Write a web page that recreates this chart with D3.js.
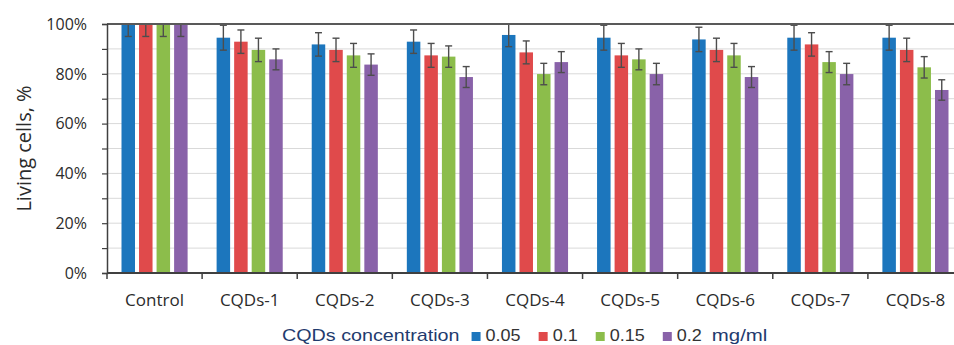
<!DOCTYPE html>
<html lang="en">
<head>
    <meta charset="UTF-8">
    <title>Living cells</title>
    <script src="https://d3js.org/d3.v7.min.js"></script>
    <style>
        body { margin: 0; background: #fff; }
        svg { display: block; }
    </style>
</head>
<body>
    <div id="chart"></div>
    <script>
        // Chart data
        const categories = ['Control', 'CQDs-1', 'CQDs-2', 'CQDs-3', 'CQDs-4', 'CQDs-5', 'CQDs-6', 'CQDs-7', 'CQDs-8'];
        const seriesNames = ['0.05', '0.1', '0.15', '0.2'];
        const vals005 = [100, 94.5, 91.8, 92.9, 95.6, 94.5, 93.8, 94.5, 94.5];
        const vals01  = [100, 92.9, 89.6, 87.4, 88.6, 87.4, 89.6, 91.8, 89.6];
        const vals015 = [100, 89.6, 87.4, 86.9, 79.9, 85.8, 87.4, 84.7, 82.6];
        const vals02  = [100, 85.8, 83.7, 78.7, 84.7, 79.9, 78.7, 79.9, 73.5];
        const err005 = [5, 5, 4.7, 4.7, 4.7, 5, 4.9, 5, 5];
        const err01  = [5, 4.7, 4.7, 4.8, 4.6, 4.8, 4.7, 4.7, 4.7];
        const err015 = [5, 4.7, 4.8, 4.3, 4.3, 4.2, 4.8, 4.2, 4.3];
        const err02  = [5, 4.2, 4.3, 4.2, 4.2, 4.3, 4.2, 4.3, 4.1];
        const yTicks = [0, 20, 40, 60, 80, 100];

        const seriesVals = [vals005, vals01, vals015, vals02];
        const seriesErr = [err005, err01, err015, err02];
        const colors = ['#1c76bd', '#e04a4b', '#8cbd4b', '#8962a9'];

        const width = 954, height = 345;
        const plotLeft = 107, plotRight = 963, plotTop = 24, plotBottom = 273;

        const svg = d3.select('#chart').append('svg')
            .attr('width', width)
            .attr('height', height);

        const x0 = d3.scaleBand().domain(categories).range([plotLeft, plotRight]);
        const x1 = d3.scaleBand().domain(seriesNames)
            .range([14.5, x0.bandwidth() - 14.5])
            .paddingInner(0.23);
        const y = d3.scaleLinear().domain([0, 100]).range([plotBottom, plotTop]);

        // gridlines every 10%
        svg.append('g')
            .selectAll('line')
            .data(d3.range(10, 100, 10))
            .enter().append('line')
            .attr('x1', plotLeft).attr('x2', width)
            .attr('y1', d => y(d)).attr('y2', d => y(d))
            .attr('stroke', '#d9d9d9')
            .attr('stroke-width', 1);

        // bars
        const rows = [];
        categories.forEach((c, i) => {
            seriesNames.forEach((s, j) => {
                rows.push({ cat: c, ser: s, j: j, v: seriesVals[j][i], e: seriesErr[j][i] });
            });
        });

        svg.append('g')
            .selectAll('rect')
            .data(rows)
            .enter().append('rect')
            .attr('x', d => x0(d.cat) + x1(d.ser))
            .attr('width', x1.bandwidth())
            .attr('y', d => y(d.v))
            .attr('height', d => y(0) - y(d.v))
            .attr('fill', d => colors[d.j]);

        // error bars, clipped to the plot area
        svg.append('clipPath').attr('id', 'plotclip')
            .append('rect')
            .attr('x', plotLeft).attr('y', plotTop)
            .attr('width', width - plotLeft).attr('height', plotBottom - plotTop);

        const eb = svg.append('g')
            .attr('clip-path', 'url(#plotclip)')
            .attr('stroke', '#4d4d4d')
            .attr('stroke-width', 1.4)
            .selectAll('g')
            .data(rows)
            .enter().append('g')
            .attr('transform', d => `translate(${x0(d.cat) + x1(d.ser) + x1.bandwidth() / 2},0)`);
        eb.append('line')
            .attr('y1', d => y(d.v + d.e)).attr('y2', d => y(d.v - d.e));
        eb.append('line')
            .attr('x1', -3.5).attr('x2', 3.5)
            .attr('y1', d => y(d.v + d.e)).attr('y2', d => y(d.v + d.e));
        eb.append('line')
            .attr('x1', -3.5).attr('x2', 3.5)
            .attr('y1', d => y(d.v - d.e)).attr('y2', d => y(d.v - d.e));

        // top border line
        svg.append('line')
            .attr('x1', plotLeft).attr('x2', width)
            .attr('y1', y(100)).attr('y2', y(100))
            .attr('stroke', '#595959')
            .attr('stroke-width', 2);

        // y axis
        const yAxis = svg.append('g')
            .attr('transform', `translate(${plotLeft},0)`)
            .call(d3.axisLeft(y).tickValues(d3.range(0, 101, 10)).tickSize(5).tickFormat(''));
        yAxis.select('.domain').attr('stroke', '#404040').attr('stroke-width', 1.5);
        yAxis.selectAll('.tick line').attr('stroke', '#404040').attr('stroke-width', 1.2);

        svg.append('g')
            .selectAll('text')
            .data(yTicks)
            .enter().append('text')
            .attr('x', plotLeft - 20)
            .attr('y', d => y(d))
            .attr('dy', '0.36em')
            .attr('text-anchor', 'end')
            .attr('font-family', 'Open Sans, sans-serif')
            .attr('font-size', 16)
            .attr('fill', '#2b2b2b')
            .text(d => d + '%');

        // x axis
        const xAxis = svg.append('g')
            .attr('transform', `translate(0,${plotBottom})`);
        xAxis.append('line')
            .attr('x1', plotLeft).attr('x2', width)
            .attr('stroke', '#404040').attr('stroke-width', 2);
        xAxis.selectAll('.sep')
            .data(categories)
            .enter().append('line')
            .attr('class', 'sep')
            .attr('x1', d => x0(d)).attr('x2', d => x0(d))
            .attr('y1', 0).attr('y2', 6)
            .attr('stroke', '#404040').attr('stroke-width', 1.5);

        svg.append('g')
            .selectAll('text')
            .data(categories)
            .enter().append('text')
            .attr('x', d => x0(d) + x0.bandwidth() / 2)
            .attr('y', 306)
            .attr('text-anchor', 'middle')
            .attr('font-family', 'Open Sans, sans-serif')
            .attr('font-size', 17)
            .attr('fill', '#2b2b2b')
            .text(d => d);

        // y label
        svg.append('text')
            .attr('transform', `translate(31,${(plotTop + plotBottom) / 2}) rotate(-90)`)
            .attr('text-anchor', 'middle')
            .attr('font-family', 'Open Sans, sans-serif')
            .attr('font-size', 20)
            .attr('fill', '#2b2b2b')
            .text('Living cells, %');

        // legend
        const legend = svg.append('g').attr('transform', 'translate(282,341)');
        function addText(g, x, str, col, stretch) {
            const t = g.append('text')
                .attr('x', x)
                .attr('font-family', 'Liberation Sans, Arial, sans-serif')
                .attr('font-size', 17)
                .attr('fill', col)
                .text(str);
            const w = t.node().getComputedTextLength() * stretch;
            t.attr('textLength', w).attr('lengthAdjust', 'spacingAndGlyphs');
            return w;
        }
        let lx = addText(legend, 0, 'CQDs concentration', '#1f3b6e', 1.16) + 12;
        seriesNames.forEach((s, j) => {
            legend.append('rect')
                .attr('x', lx).attr('y', -9)
                .attr('width', 9).attr('height', 9)
                .attr('fill', colors[j]);
            lx += 14;
            lx += addText(legend, lx, s, '#333', 1.06);
            if (j < seriesNames.length - 1) lx += 18;
        });
        addText(legend, lx + 10, 'mg/ml', '#1f3b6e', 1.2);
    </script>
</body>
</html>
